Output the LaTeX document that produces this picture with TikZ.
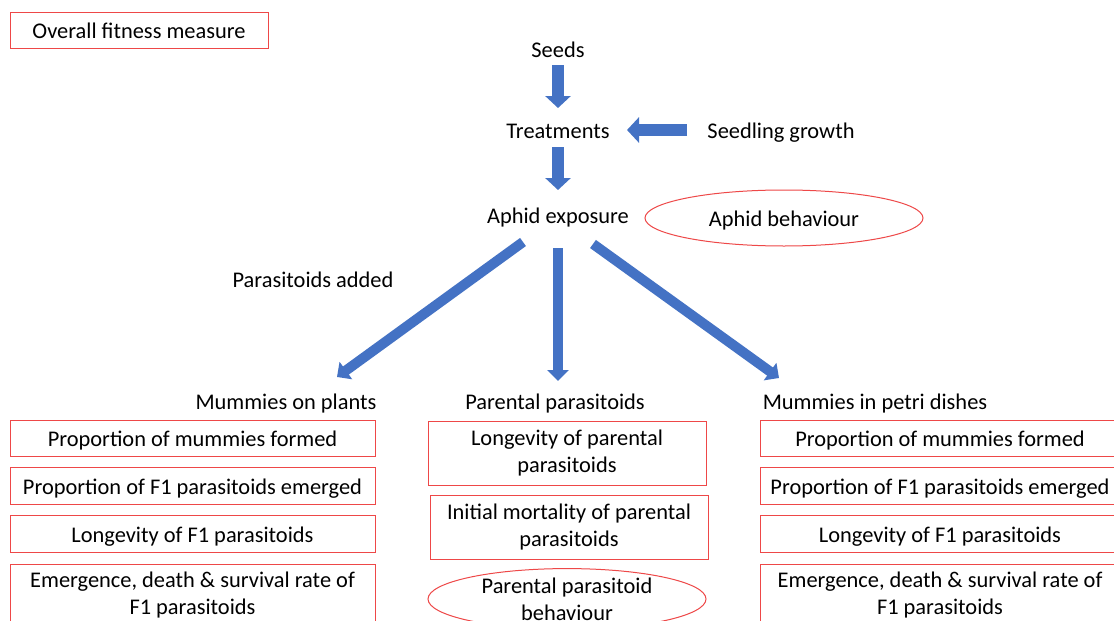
\documentclass[tikz,border=0pt]{standalone}
\usepackage{fontspec}
\setmainfont{Carlito}
\usetikzlibrary{arrows.meta,calc,shapes.geometric}
\definecolor{boxred}{RGB}{238,72,72}
\definecolor{arrblue}{RGB}{68,114,196}
\begin{document}
\begin{tikzpicture}[x=1pt,y=-1pt,
  font=\fontsize{22.4}{27.3}\selectfont,
  lbl/.style={inner sep=0pt, align=center, text height=17pt, text depth=0pt},
  rbox/.style={draw=boxred, line width=1pt, inner sep=0pt, align=center},
  one/.style={text height=17pt, text depth=0pt},
  rell/.style={ellipse, draw=boxred, line width=1pt, inner sep=0pt, align=center},
  bigarrow/.style={draw=arrblue, line width=12pt, -{Triangle[width=25pt,length=12pt]}},
  midarrow/.style={draw=arrblue, line width=10pt, -{Triangle[width=21pt,length=11pt]}}]
\clip (0,0) rectangle (1114,621);
\fill[white] (0,0) rectangle (1114,621);

\node[rbox, one, minimum width=258pt, minimum height=36pt] (ofm) at (139,30) {Overall fitness measure};
\node[lbl] (seeds) at (558,49) {Seeds};
\node[lbl] (treat) at (558,130) {Treatments};
\node[lbl] (sg) at (781,130) {Seedling growth};
\node[lbl] (ae) at (558,215) {Aphid exposure};
\node[rell, one, minimum width=278pt, minimum height=56pt] (ab) at (784,218) {Aphid behaviour};
\node[lbl] (pa) at (313,279) {Parasitoids added};
\node[lbl] (mp) at (286,401) {Mummies on plants};
\node[lbl] (pp) at (555,401) {Parental parasitoids};
\node[lbl] (md) at (875,401) {Mummies in petri dishes};

% left column
\node[rbox, one, minimum width=365pt, minimum height=36pt] (l1) at (192.5,438) {Proportion of mummies formed};
\node[rbox, one, minimum width=365pt, minimum height=37pt] (l2) at (192.5,485.5) {Proportion of F1 parasitoids emerged};
\node[rbox, one, minimum width=365pt, minimum height=37pt] (l3) at (192.5,533.5) {Longevity of F1 parasitoids};
\node[rbox, minimum width=365pt, minimum height=62pt] (l4) at (192.5,595) {Emergence, death \& survival rate of\\F1 parasitoids};

% middle column
\node[rbox, minimum width=278pt, minimum height=64pt] (m1) at (567,453) {Longevity of parental\\parasitoids};
\node[rbox, minimum width=278pt, minimum height=64pt] (m2) at (569,527) {Initial mortality of parental\\parasitoids};
\node[rell, minimum width=278pt, minimum height=60pt] (m3) at (567,599) {Parental parasitoid\\behaviour};

% right column
\node[rbox, one, minimum width=360pt, minimum height=36pt] (r1) at (940,438) {Proportion of mummies formed};
\node[rbox, one, minimum width=360pt, minimum height=37pt] (r2) at (940,485.5) {Proportion of F1 parasitoids emerged};
\node[rbox, one, minimum width=360pt, minimum height=37pt] (r3) at (940,533.5) {Longevity of F1 parasitoids};
\node[rbox, minimum width=360pt, minimum height=62pt] (r4) at (940,595) {Emergence, death \& survival rate of\\F1 parasitoids};

% arrows
\draw[bigarrow] ($(seeds)+(0,16)$) -- ($(treat)+(0,-22)$);
\draw[bigarrow] ($(sg)+(-94,0)$) -- ($(treat)+(69,0)$);
\draw[bigarrow] ($(treat)+(0,17)$) -- ($(ae)+(0,-25)$);
\draw[midarrow] ($(ae)+(-35,27)$) -- ($(mp)+(51,-24)$);
\draw[midarrow] ($(ae)+(0,33)$) -- ($(pp)+(3,-20)$);
\draw[midarrow] ($(ae)+(35,29)$) -- ($(md)+(-96,-23)$);
\end{tikzpicture}
\end{document}
